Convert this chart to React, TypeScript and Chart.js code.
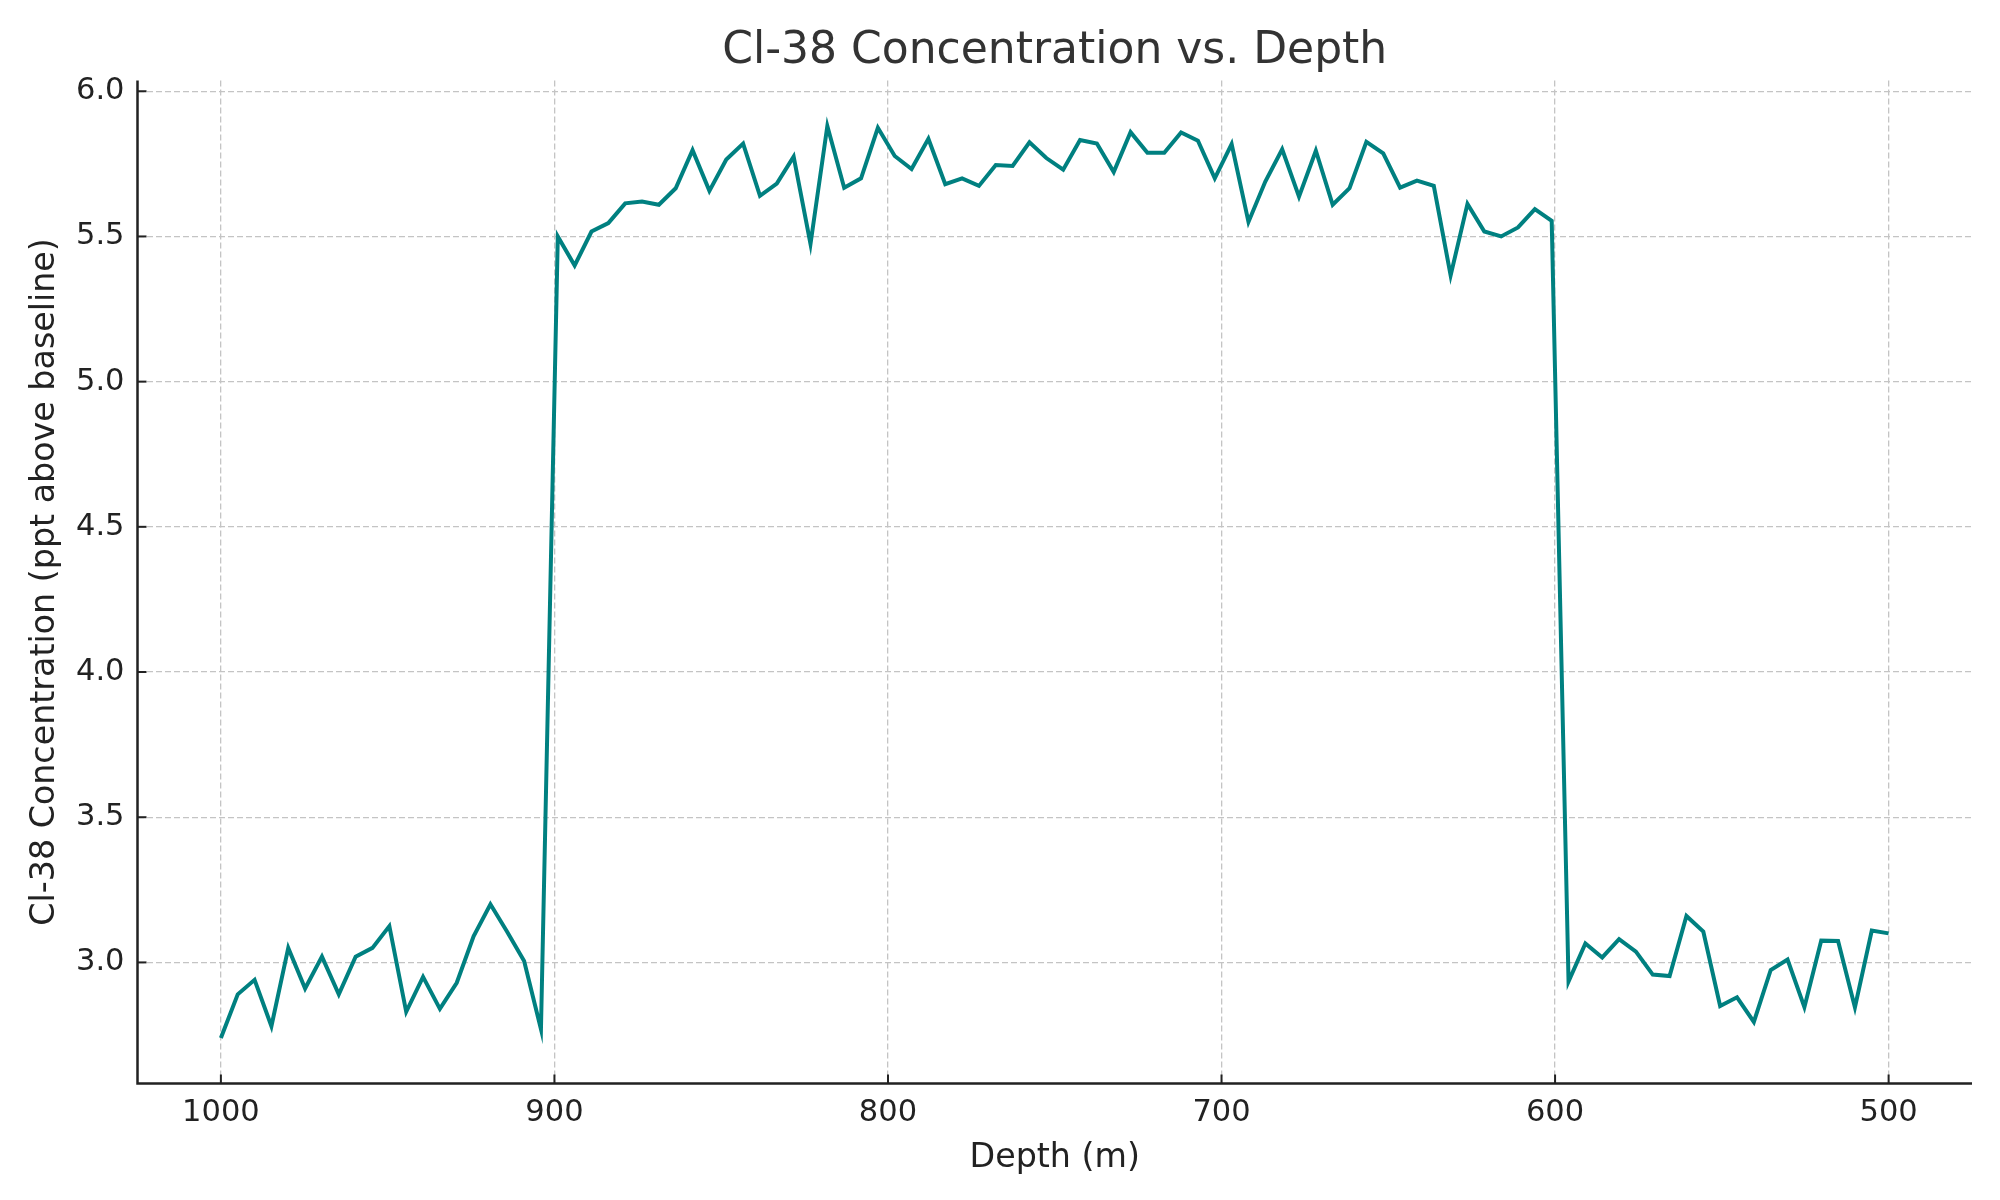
import React, { useEffect, useRef } from 'react';
import { Chart, registerables } from 'chart.js';

Chart.register(...registerables);

// depth (m), 100 samples from 1000 down to 500
const depths = [
  1000.0, 994.95, 989.9, 984.85, 979.8, 974.75, 969.7, 964.65, 959.6, 954.55,
  949.49, 944.44, 939.39, 934.34, 929.29, 924.24, 919.19, 914.14, 909.09, 904.04,
  898.99, 893.94, 888.89, 883.84, 878.79, 873.74, 868.69, 863.64, 858.59, 853.54,
  848.48, 843.43, 838.38, 833.33, 828.28, 823.23, 818.18, 813.13, 808.08, 803.03,
  797.98, 792.93, 787.88, 782.83, 777.78, 772.73, 767.68, 762.63, 757.58, 752.53,
  747.47, 742.42, 737.37, 732.32, 727.27, 722.22, 717.17, 712.12, 707.07, 702.02,
  696.97, 691.92, 686.87, 681.82, 676.77, 671.72, 666.67, 661.62, 656.57, 651.52,
  646.46, 641.41, 636.36, 631.31, 626.26, 621.21, 616.16, 611.11, 606.06, 601.01,
  595.96, 590.91, 585.86, 580.81, 575.76, 570.71, 565.66, 560.61, 555.56, 550.51,
  545.45, 540.4, 535.35, 530.3, 525.25, 520.2, 515.15, 510.1, 505.05, 500.0,
];

// Cl-38 concentration (ppt above baseline)
const concentration = [
  2.74, 2.89, 2.94, 2.78, 3.05, 2.91, 3.02, 2.89, 3.02, 3.05,
  3.125, 2.83, 2.95, 2.84, 2.93, 3.09, 3.2, 3.105, 3.005, 2.77,
  5.5, 5.4, 5.517, 5.546, 5.614, 5.62, 5.609, 5.666, 5.797, 5.657,
  5.765, 5.82, 5.64, 5.682, 5.775, 5.474, 5.88, 5.668, 5.7, 5.874,
  5.777, 5.732, 5.836, 5.68, 5.7, 5.674, 5.746, 5.743, 5.824, 5.77,
  5.73, 5.832, 5.82, 5.722, 5.859, 5.788, 5.788, 5.858, 5.83, 5.7,
  5.818, 5.55, 5.689, 5.8, 5.637, 5.795, 5.609, 5.666, 5.826, 5.786,
  5.668, 5.692, 5.674, 5.366, 5.612, 5.517, 5.5, 5.531, 5.594, 5.554,
  2.934, 3.065, 3.017, 3.08, 3.037, 2.958, 2.953, 3.16, 3.106, 2.85,
  2.88, 2.795, 2.974, 3.01, 2.846, 3.075, 3.074, 2.845, 3.11, 3.1,
];

const xTicks = [1000, 900, 800, 700, 600, 500];
const yTicks = [3.0, 3.5, 4.0, 4.5, 5.0, 5.5, 6.0];

const TITLE = 'Cl-38 Concentration vs. Depth';
const FONT = "'DejaVu Sans', sans-serif";
const TEXT = '#222222';

// solid left/bottom spines, inward tick marks, and a title centred over the plot area
const spinesAndTicks = {
  id: 'spinesAndTicks',
  afterDatasetsDraw(chart: Chart) {
    const { ctx, chartArea, scales } = chart;
    const len = 9;
    ctx.save();
    ctx.setLineDash([]);
    ctx.strokeStyle = TEXT;
    ctx.lineWidth = 2.5;
    ctx.beginPath();
    ctx.moveTo(chartArea.left, chartArea.top);
    ctx.lineTo(chartArea.left, chartArea.bottom);
    ctx.lineTo(chartArea.right, chartArea.bottom);
    ctx.stroke();
    ctx.lineWidth = 2;
    xTicks.forEach(v => {
      const px = scales.x.getPixelForValue(v);
      ctx.beginPath();
      ctx.moveTo(px, chartArea.bottom);
      ctx.lineTo(px, chartArea.bottom - len);
      ctx.stroke();
    });
    yTicks.forEach(v => {
      const py = scales.y.getPixelForValue(v);
      ctx.beginPath();
      ctx.moveTo(chartArea.left, py);
      ctx.lineTo(chartArea.left + len, py);
      ctx.stroke();
    });

    ctx.fillStyle = '#333333';
    ctx.font = `44px ${FONT}`;
    ctx.textAlign = 'center';
    ctx.textBaseline = 'middle';
    ctx.fillText(TITLE, (chartArea.left + chartArea.right) / 2, 52);
    ctx.restore();
  },
};

const App: React.FC = () => {
  const canvasRef = useRef<HTMLCanvasElement>(null);
  const chartRef = useRef<Chart | null>(null);

  useEffect(() => {
    document.body.style.margin = '0';
    if (!canvasRef.current) return;
    if (chartRef.current) chartRef.current.destroy();

    const grid = {
      display: true,
      drawTicks: false,
      color: '#c4c4c4',
      lineWidth: 1.3,
    };
    const border = { display: false, dash: [6, 3] };

    chartRef.current = new Chart(canvasRef.current, {
      type: 'line',
      data: {
        datasets: [{
          label: 'Cl-38',
          data: depths.map((d, i) => ({ x: d, y: concentration[i] })),
          borderColor: '#008080',
          borderWidth: 4,
          pointRadius: 0,
          tension: 0,
          fill: false,
        }],
      },
      options: {
        responsive: true,
        maintainAspectRatio: false,
        animation: false,
        layout: { padding: { left: 0, right: 28, top: 80.5, bottom: 0 } },
        plugins: {
          legend: { display: false },
          tooltip: { enabled: false },
          title: { display: false },
        },
        scales: {
          x: {
            type: 'linear',
            reverse: true,
            min: 475,
            max: 1025,
            afterBuildTicks: (scale: any) => {
              scale.ticks = xTicks.map(v => ({ value: v }));
            },
            afterFit: (scale: any) => {
              scale.height = 116.5;
            },
            grid: grid,
            border: border,
            ticks: {
              autoSkip: false,
              maxRotation: 0,
              padding: 11,
              color: TEXT,
              font: { family: FONT, size: 30.5 },
              callback: (v: any) => String(v),
            },
            title: {
              display: true,
              text: 'Depth (m)',
              color: TEXT,
              font: { family: FONT, size: 33.3 },
              padding: { top: 0, bottom: 22 },
            },
          },
          y: {
            type: 'linear',
            min: 2.583,
            max: 6.037,
            afterBuildTicks: (scale: any) => {
              scale.ticks = yTicks.map(v => ({ value: v }));
            },
            afterFit: (scale: any) => {
              scale.width = 137.5;
            },
            grid: grid,
            border: border,
            ticks: {
              autoSkip: false,
              padding: 13,
              color: TEXT,
              font: { family: FONT, size: 30.5 },
              callback: (v: any) => Number(v).toFixed(1),
            },
            title: {
              display: true,
              text: 'Cl-38 Concentration (ppt above baseline)',
              color: TEXT,
              font: { family: FONT, size: 33.3 },
              padding: { top: 25, bottom: 0 },
            },
          },
        },
      },
      plugins: [spinesAndTicks],
    });

    return () => {
      if (chartRef.current) {
        chartRef.current.destroy();
        chartRef.current = null;
      }
    };
  }, []);

  return (
    <div style={{ position: 'absolute', left: 0, top: 0, width: 2000, height: 1200, background: '#ffffff' }}>
      <canvas ref={canvasRef}></canvas>
    </div>
  );
};

export default App;
